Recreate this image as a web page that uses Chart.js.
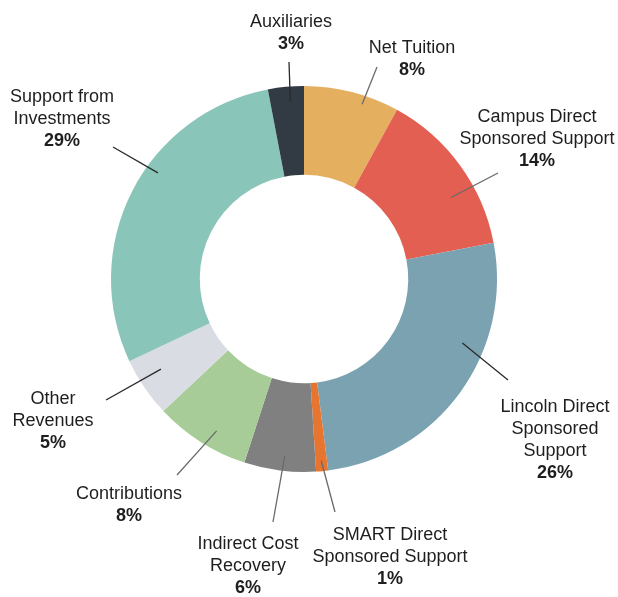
<!DOCTYPE html>
<html>
<head>
<meta charset="utf-8">
<script src="https://cdn.jsdelivr.net/npm/chart.js@4.4.1/dist/chart.umd.min.js"></script>
<style>
  html, body { margin: 0; padding: 0; background: #fff; }
  #wrap { width: 618px; height: 597px; }
</style>
</head>
<body>
<div id="wrap"><canvas id="myChart" width="618" height="597"></canvas></div>
<script>
// revenue sources, clockwise from 12 o'clock
const categories = ['Net Tuition', 'Campus Direct Sponsored Support', 'Lincoln Direct Sponsored Support',
    'SMART Direct Sponsored Support', 'Indirect Cost Recovery', 'Contributions', 'Other Revenues',
    'Support from Investments', 'Auxiliaries'];
const shares = [8, 14, 26, 1, 6, 8, 5, 29, 3];
const colors = ['#E4B060', '#E35F52', '#7BA2B1', '#E8752F', '#808080', '#A8CC97', '#D9DCE3', '#8AC5B9', '#323A43'];
const labelLines = [
    ['Net Tuition'],
    ['Campus Direct', 'Sponsored Support'],
    ['Lincoln Direct', 'Sponsored', 'Support'],
    ['SMART Direct', 'Sponsored Support'],
    ['Indirect Cost', 'Recovery'],
    ['Contributions'],
    ['Other', 'Revenues'],
    ['Support from', 'Investments'],
    ['Auxiliaries']
];

// callout placement: text centre x / first line y, leader end, angle nudge (deg), depth into ring
const callouts = [
    { tx: 412, ty: 48,  ex: 377, ey: 67,  nudge: 4,    depth: 0.9,  line: '#6a6a6a' },
    { tx: 537, ty: 117, ex: 498, ey: 173, nudge: 7,    depth: 0.72, line: '#6a6a6a' },
    { tx: 555, ty: 407, ex: 508, ey: 380, nudge: -14,  depth: 0.75, line: '#2a2a2a' },
    { tx: 390, ty: 535, ex: 335, ey: 512, nudge: 0,    depth: 0.88, line: '#6a6a6a' },
    { tx: 248, ty: 544, ex: 273, ey: 522, nudge: -1,   depth: 0.83, line: '#6a6a6a' },
    { tx: 129, ty: 494, ex: 177, ey: 475, nudge: -2.5, depth: 0.8,  line: '#6a6a6a' },
    { tx: 53,  ty: 399, ex: 106, ey: 400, nudge: 2,    depth: 0.73, line: '#2a2a2a' },
    { tx: 62,  ty: 97,  ex: 113, ey: 147, nudge: 9,    depth: 0.86, line: '#2a2a2a' },
    { tx: 291, ty: 22,  ex: 289, ey: 62,  nudge: 1,    depth: 0.83, line: '#2a2a2a' }
];

const calloutPlugin = {
    id: 'callouts',
    afterDatasetsDraw(chart) {
        const ctx = chart.ctx;
        const meta = chart.getDatasetMeta(0);
        const lh = 22;
        meta.data.forEach((arc, i) => {
            const p = arc.getProps(['x', 'y', 'startAngle', 'endAngle', 'innerRadius', 'outerRadius'], true);
            const c = callouts[i];
            const a = (p.startAngle + p.endAngle) / 2 + c.nudge * Math.PI / 180;
            const r = p.innerRadius + (p.outerRadius - p.innerRadius) * c.depth;
            ctx.save();
            ctx.strokeStyle = c.line;
            ctx.lineWidth = 1.3;
            ctx.beginPath();
            ctx.moveTo(p.x + Math.cos(a) * r, p.y + Math.sin(a) * r);
            ctx.lineTo(c.ex, c.ey);
            ctx.stroke();

            ctx.fillStyle = '#1e1e1e';
            ctx.textAlign = 'center';
            ctx.textBaseline = 'middle';
            ctx.font = '18px "Liberation Sans", Arial, sans-serif';
            labelLines[i].forEach((t, k) => ctx.fillText(t, c.tx, c.ty + k * lh));
            ctx.font = 'bold 18px "Liberation Sans", Arial, sans-serif';
            ctx.fillText(shares[i] + '%', c.tx, c.ty + labelLines[i].length * lh);
            ctx.restore();
        });
    }
};

const ctx = document.getElementById('myChart').getContext('2d');
const myChart = new Chart(ctx, {
    type: 'doughnut',
    data: {
        labels: categories,
        datasets: [{
            data: shares,
            backgroundColor: colors,
            borderWidth: 0,
            hoverOffset: 0,
            offset: 0
        }]
    },
    options: {
        responsive: false,
        animation: false,
        cutout: '54%',
        layout: { padding: { top: 86, bottom: 125, left: 111, right: 121 } },
        plugins: {
            legend: { display: false },
            tooltip: { enabled: false }
        }
    },
    plugins: [calloutPlugin]
});
</script>
</body>
</html>
